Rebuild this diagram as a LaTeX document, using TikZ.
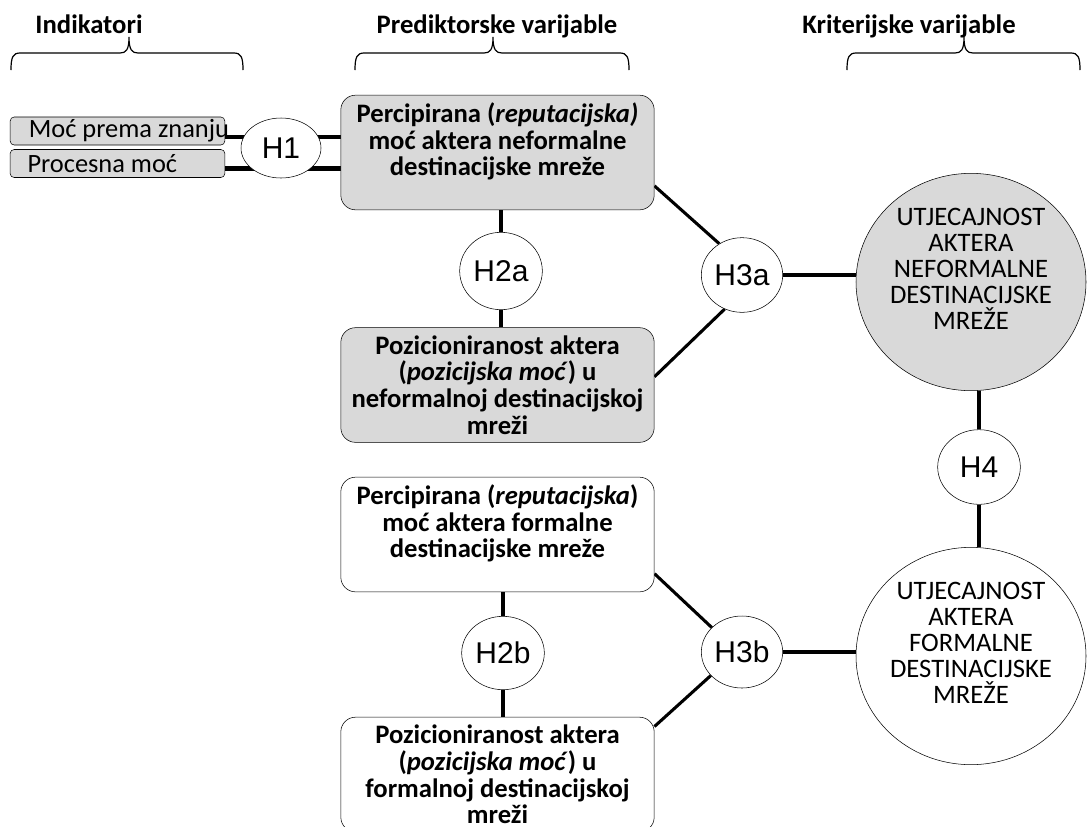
\documentclass[tikz,border=0pt]{standalone}
\usepackage{fontspec}
\setmainfont{Carlito}
\newfontfamily\hypfont{Liberation Sans}
\usetikzlibrary{shapes.geometric,backgrounds}

\definecolor{boxgray}{HTML}{D9D9D9}

\tikzset{
  header/.style={font=\fontsize{20}{19.5}\selectfont\bfseries, anchor=base},
  indbox/.style={draw, rounded corners=3pt, fill=boxgray, minimum width=161pt, minimum height=21pt, inner sep=0pt, font=\fontsize{19.8}{19.8}\selectfont},
  varbox/.style={draw, rounded corners=11pt, minimum width=235pt, minimum height=86pt, inner sep=0pt, align=center, font=\fontsize{20}{20}\selectfont\bfseries},
  hyp/.style={ellipse, draw, fill=white, inner sep=0pt, font=\hypfont\fontsize{22.5}{22.5}\selectfont},
  bigcirc/.style={ellipse, draw, inner sep=0pt, minimum width=172.5pt, minimum height=163pt, align=center, font=\fontsize{20}{19.5}\selectfont},
  link/.style={line width=2.3pt},
  boldlink/.style={line width=3.6pt}
}

\begin{document}
\begin{tikzpicture}[x=0.75pt, y=-0.75pt]
  \useasboundingbox (0,0) rectangle (1087,826);

  % Headers
  \node[header] (ind) at (89,33) {Indikatori};
  \node[header] (pred) at (497,33) {Prediktorske varijable};
  \node[header] (krit) at (909,33) {Kriterijske varijable};

  % Braces under the headers
  \foreach \l/\t/\r in {11/129/243, 355/493/629, 847/964/1080} {
    \draw[line width=0.9pt] (\l,70) .. controls (\l,57) and (\l+2,53) .. (\l+9,53) -- (\t-9,53)
      .. controls (\t-3,53) and (\t,50) .. (\t,37) .. controls (\t,50) and (\t+3,53) .. (\t+9,53)
      -- (\r-9,53) .. controls (\r-2,53) and (\r,57) .. (\r,70);
  }

  % Indicators
  \node[indbox] (moc) at (117.5,131) {\makebox[161pt][l]{\hspace{14pt}Moć prema znanju}};
  \node[indbox] (proc) at (117.5,163.5) {\makebox[161pt][l]{\hspace{13pt}Procesna moć}};

  % Predictor boxes
  \node[varbox, fill=boxgray] (pn) at (497.5,152.5) {Percipirana (\textit{reputacijska)}\\ moć aktera neformalne\\ destinacijske mreže\\ \mbox{}};
  \node[varbox, fill=boxgray] (pozn) at (497.5,385) {Pozicioniranost aktera\\ (\textit{pozicijska moć}) u\\ neformalnoj destinacijskoj\\ mreži};
  \node[varbox, fill=white] (pf) at (497.5,534.5) {Percipirana (\textit{reputacijska})\\ moć aktera formalne\\ destinacijske mreže\\ \mbox{}};
  \node[varbox, fill=white] (pozf) at (497.5,774.5) {Pozicioniranost aktera\\ (\textit{pozicijska moć}) u\\ formalnoj destinacijskoj\\ mreži};

  % Criterion circles
  \node[bigcirc, fill=boxgray] (un) at (971,282) {UTJECAJNOST\\ AKTERA\\ NEFORMALNE\\ DESTINACIJSKE\\ MREŽE\\ \mbox{}};
  \node[bigcirc, fill=white] (uf) at (971,656) {UTJECAJNOST\\ AKTERA\\ FORMALNE\\ DESTINACIJSKE\\ MREŽE\\ \mbox{}};

  % Hypotheses
  \node[hyp, minimum width=60pt, minimum height=45pt] (h1) at (281,148) {H1};
  \node[hyp, minimum width=62pt, minimum height=58pt] (h2a) at (501,271) {H2a};
  \node[hyp, minimum width=61pt, minimum height=56pt] (h3a) at (742,275) {H3a};
  \node[hyp, minimum width=62pt, minimum height=56pt] (h4) at (979,467) {H4};
  \node[hyp, minimum width=62pt, minimum height=55pt] (h2b) at (503,653) {H2b};
  \node[hyp, minimum width=61pt, minimum height=54pt] (h3b) at (742,652) {H3b};

  \begin{scope}[on background layer]
    % Indicators to H1 to predictor
    \draw[boldlink] ([yshift=-4.5pt]moc.east) -- ([yshift=-4.5pt]moc.east -| h1.center);
    \draw[boldlink] ([yshift=-3.5pt]proc.east) -- ([yshift=-3.5pt]proc.east -| h1.center);
    \draw[boldlink] ([yshift=-4.5pt]moc.east -| h1.center) -- ([yshift=-4.5pt]moc.east -| pn.west);
    \draw[boldlink] ([yshift=-3.5pt]proc.east -| h1.center) -- ([yshift=-3.5pt]proc.east -| pn.west);

    % H2a and H2b
    \draw[boldlink] (h2a) -- (h2a |- pn.south);
    \draw[boldlink] (h2a) -- (h2a |- pozn.north);
    \draw[link] (h2b) -- (h2b |- pf.south);
    \draw[link] (h2b) -- (h2b |- pozf.north);

    % H3a and H3b
    \draw[link] (pn.-12) -- (h3a.126);
    \draw[link] (pozn.3) -- (h3a.243);
    \draw[boldlink] (h3a.east) -- (h3a.east -| un.west);
    \draw[link] (pf.-14) -- (h3b.141);
    \draw[link] (pozf.17) -- (h3b.217);
    \draw[boldlink] (h3b.east) -- (h3b.east -| uf.west);

    % H4
    \draw[link] (h4) -- (h4 |- un.south);
    \draw[link] (h4) -- (h4 |- uf.north);
  \end{scope}
\end{tikzpicture}
\end{document}
